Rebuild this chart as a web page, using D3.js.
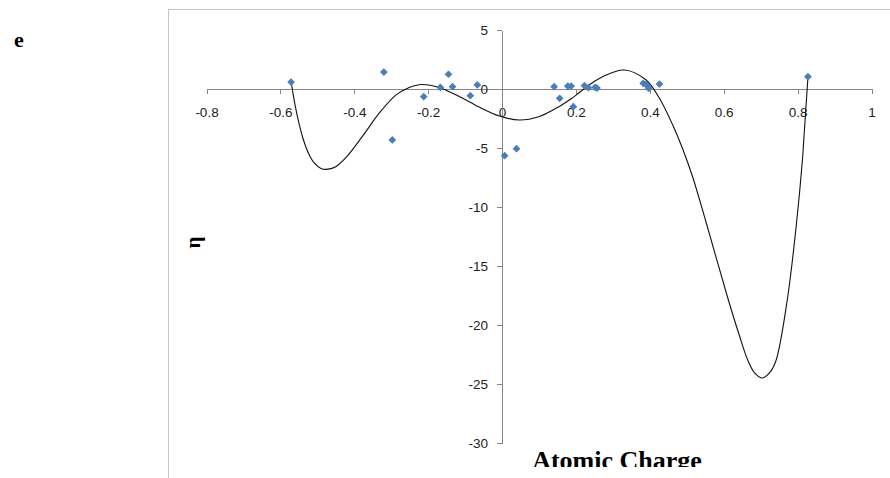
<!DOCTYPE html>
<html>
<head>
<meta charset="utf-8">
<script src="https://cdn.jsdelivr.net/npm/d3@7"></script>
<style>
  html, body { margin: 0; padding: 0; background: #fff; }
  svg { display: block; }
</style>
</head>
<body>
<svg id="chart" width="890" height="478"></svg>
<script>
// Observed points: atomic charge vs. η
const chargeX = [-0.571, -0.320, -0.297, -0.212, -0.167, -0.145, -0.134, -0.086, -0.067,
                 0.007, 0.039, 0.141, 0.156, 0.178, 0.187, 0.193, 0.223, 0.234, 0.252,
                 0.257, 0.382, 0.390, 0.394, 0.397, 0.426, 0.828];
const etaY = [0.59, 1.44, -4.32, -0.65, 0.14, 1.25, 0.20, -0.57, 0.34,
              -5.65, -5.06, 0.20, -0.79, 0.25, 0.25, -1.50, 0.28, 0.11, 0.14,
              0.08, 0.48, 0.40, 0.25, 0.06, 0.42, 1.04];

// Polynomial trend line, sampled along its length
const trendX = [-0.571, -0.567, -0.560, -0.549, -0.540, -0.530, -0.520, -0.508, -0.490, -0.476,
                -0.450, -0.422, -0.377, -0.332, -0.287, -0.260, -0.219,
                -0.170, -0.116, -0.086, -0.062, -0.007, 0.047,
                0.101, 0.155, 0.188, 0.209, 0.236, 0.272, 0.331, 0.390,
                0.426, 0.462, 0.489, 0.516, 0.552, 0.611, 0.642, 0.665, 0.683, 0.705,
                0.726, 0.742, 0.772, 0.796, 0.813, 0.817, 0.828];
const trendY = [0.59, -0.15, -1.40, -3.00, -4.07, -5.00, -5.70, -6.28, -6.73, -6.81,
                -6.58, -5.80, -3.97, -2.03, -0.50, 0.01, 0.38,
                0.13, -0.64, -1.12, -1.53, -2.29, -2.63,
                -2.33, -1.48, -0.81, -0.30, 0.34, 1.04, 1.61, 0.76,
                -0.79, -3.05, -5.08, -7.46, -11.27, -17.71, -20.85, -22.97, -24.03, -24.49,
                -23.98, -22.97, -17.88, -11.67, -6.02, -4.15, 1.02];

const xTicks = [-0.8, -0.6, -0.4, -0.2, 0, 0.2, 0.4, 0.6, 0.8, 1];
const yTicks = [5, 0, -5, -10, -15, -20, -25, -30];

const svg = d3.select("#chart");
const tickFont = "'Liberation Sans', Arial, sans-serif";
const serif = "'Liberation Serif', 'Times New Roman', serif";

const x = d3.scaleLinear().domain([-0.8, 1]).range([206.5, 871.5]);
const y = d3.scaleLinear().domain([-30, 5]).range([443, 30]);

// Chart frame
svg.append("rect")
  .attr("x", 168.5).attr("y", 9.5)
  .attr("width", 760).attr("height", 500)
  .attr("fill", "none").attr("stroke", "#c6c6c6").attr("stroke-width", 1);

// Plain hyphen-minus labels
const fmt = d => String(+d.toFixed(1));

// X axis through y = 0
const gx = svg.append("g")
  .attr("transform", `translate(0,${y(0)})`)
  .call(d3.axisBottom(x).tickValues(xTicks).tickSize(5).tickSizeOuter(0).tickFormat(fmt));
gx.select(".domain").attr("stroke", "#868686");
gx.selectAll(".tick line").attr("stroke", "#868686");
gx.selectAll(".tick text")
  .attr("y", 18).attr("dy", "0.71em")
  .attr("fill", "#222").attr("font-family", tickFont).attr("font-size", 13.5);

// Y axis through x = 0
const gy = svg.append("g")
  .attr("transform", `translate(${x(0)},0)`)
  .call(d3.axisLeft(y).tickValues(yTicks).tickSize(5).tickSizeOuter(0).tickFormat(fmt));
gy.select(".domain").attr("stroke", "#868686");
gy.selectAll(".tick line").attr("stroke", "#868686");
gy.selectAll(".tick text")
  .attr("x", -14)
  .attr("fill", "#222").attr("font-family", tickFont).attr("font-size", 13.5);
svg.selectAll(".domain").attr("shape-rendering", "crispEdges");
svg.selectAll(".tick line").attr("shape-rendering", "crispEdges");

// Trend line
const trend = trendX.map((v, i) => [v, trendY[i]]);
svg.append("path")
  .datum(trend)
  .attr("fill", "none")
  .attr("stroke", "#111")
  .attr("stroke-width", 1.1)
  .attr("d", d3.line().x(d => x(d[0])).y(d => y(d[1])).curve(d3.curveCatmullRom.alpha(0.5)));

// Diamond markers
const pts = chargeX.map((v, i) => [v, etaY[i]]);
const diamond = d3.symbol().type(d3.symbolSquare).size(30);
svg.append("g").selectAll("path")
  .data(pts)
  .join("path")
  .attr("d", diamond)
  .attr("transform", d => `translate(${x(d[0])},${y(d[1])}) rotate(45)`)
  .attr("fill", "#4a7ebb");

// Axis titles
svg.append("defs").append("clipPath").attr("id", "titleClip")
  .append("rect").attr("x", 0).attr("y", 0).attr("width", 890).attr("height", 467);

svg.append("text")
  .attr("x", 617).attr("y", 469)
  .attr("text-anchor", "middle")
  .attr("clip-path", "url(#titleClip)")
  .attr("font-family", serif).attr("font-weight", "bold").attr("font-size", 26)
  .attr("fill", "#000")
  .text("Atomic Charge");

svg.append("text")
  .attr("transform", "translate(200,242.5) rotate(-90)")
  .attr("text-anchor", "middle")
  .attr("font-family", serif).attr("font-weight", "bold").attr("font-size", 21)
  .attr("fill", "#000")
  .text("η");

// Panel letter
svg.append("text")
  .attr("x", 14).attr("y", 47)
  .attr("font-family", serif).attr("font-weight", "bold").attr("font-size", 22)
  .attr("fill", "#000")
  .text("e");
</script>
</body>
</html>
